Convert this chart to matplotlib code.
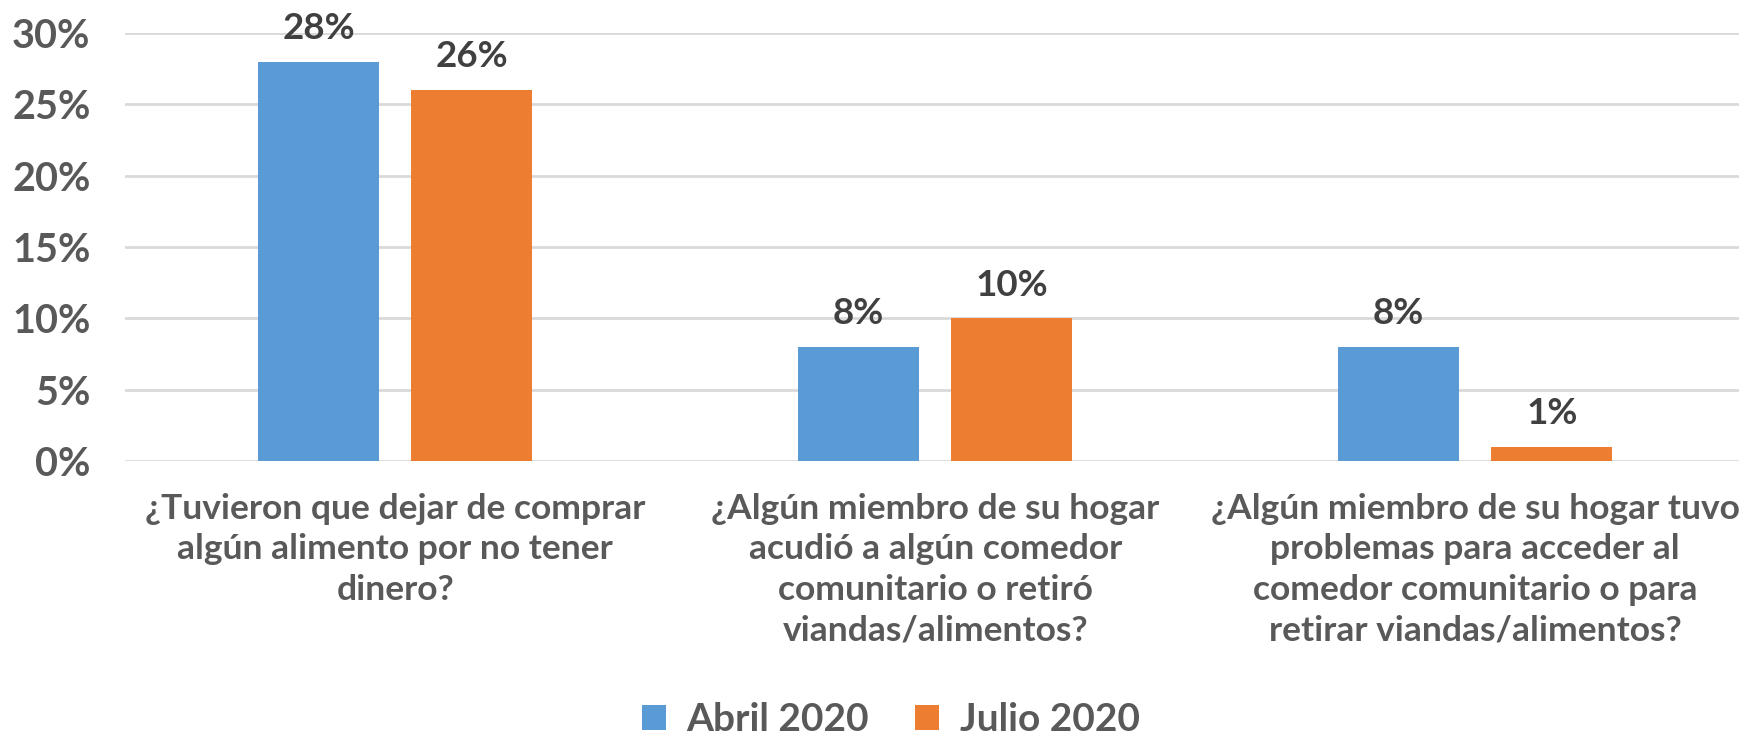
import matplotlib
matplotlib.use("Agg")
import matplotlib.pyplot as plt
import numpy as np
from matplotlib.patches import Patch

plt.rcParams['font.family'] = ['Lato', 'DejaVu Sans']
plt.rcParams['font.weight'] = 'bold'

categories = [
    "¿Tuvieron que dejar de comprar\nalgún alimento por no tener\ndinero?",
    "¿Algún miembro de su hogar\nacudió a algún comedor\ncomunitario o retiró\nviandas/alimentos?",
    "¿Algún miembro de su hogar tuvo\nproblemas para acceder al\ncomedor comunitario o para\nretirar viandas/alimentos?",
]
series_names = ["Abril 2020", "Julio 2020"]
abril = [0.28, 0.08, 0.08]
julio = [0.26, 0.10, 0.01]
yticks = [0, 0.05, 0.10, 0.15, 0.20, 0.25, 0.30]
ytick_labels = ["0%", "5%", "10%", "15%", "20%", "25%", "30%"]

blue = "#5B9BD5"
orange = "#ED7D31"
tick_color = "#595959"
label_color = "#404040"

fig = plt.figure(figsize=(17.4, 7.34), dpi=100)
ax = fig.add_axes([0.072, 0.372, 0.931, 0.583])

x = np.arange(len(categories))
w = 0.224
off = 0.142
b1 = ax.bar(x - off, abril, width=w, color=blue, zorder=3)
b2 = ax.bar(x + off, julio, width=w, color=orange, zorder=3)

for bars, vals in ((b1, abril), (b2, julio)):
    for rect, v in zip(bars, vals):
        ax.annotate(f"{round(v*100)}%", (rect.get_x() + rect.get_width()/2, v),
                    xytext=(0, 12), textcoords="offset points",
                    ha="center", va="bottom", fontsize=26.5, fontweight="bold",
                    color=label_color, annotation_clip=False)

ax.set_xlim(-0.5, 2.5)
ax.set_ylim(0, 0.30)
ax.set_yticks(yticks)
ax.set_yticklabels(ytick_labels, fontsize=28.5, fontweight="bold", color=tick_color)
ax.set_xticks(x)
ax.set_xticklabels(categories, fontsize=25.5, fontweight="bold", color=tick_color,
                   linespacing=1.33)
ax.tick_params(axis="both", length=0)
ax.tick_params(axis="y", pad=25)
ax.tick_params(axis="x", pad=23)
ax.grid(axis="y", color="#D9D9D9", linewidth=2, zorder=0)
for s in ax.spines.values():
    s.set_visible(False)

handles = [Patch(facecolor=blue), Patch(facecolor=orange)]
fig.legend(handles, series_names, loc="center", bbox_to_anchor=(0.512, 0.02),
           ncol=2, frameon=False, handlelength=0.62, handleheight=0.62,
           columnspacing=1.18, handletextpad=0.54,
           prop={'size': 28, 'weight': 'bold'}, labelcolor=tick_color)

fig.savefig("out.png", dpi=100)
